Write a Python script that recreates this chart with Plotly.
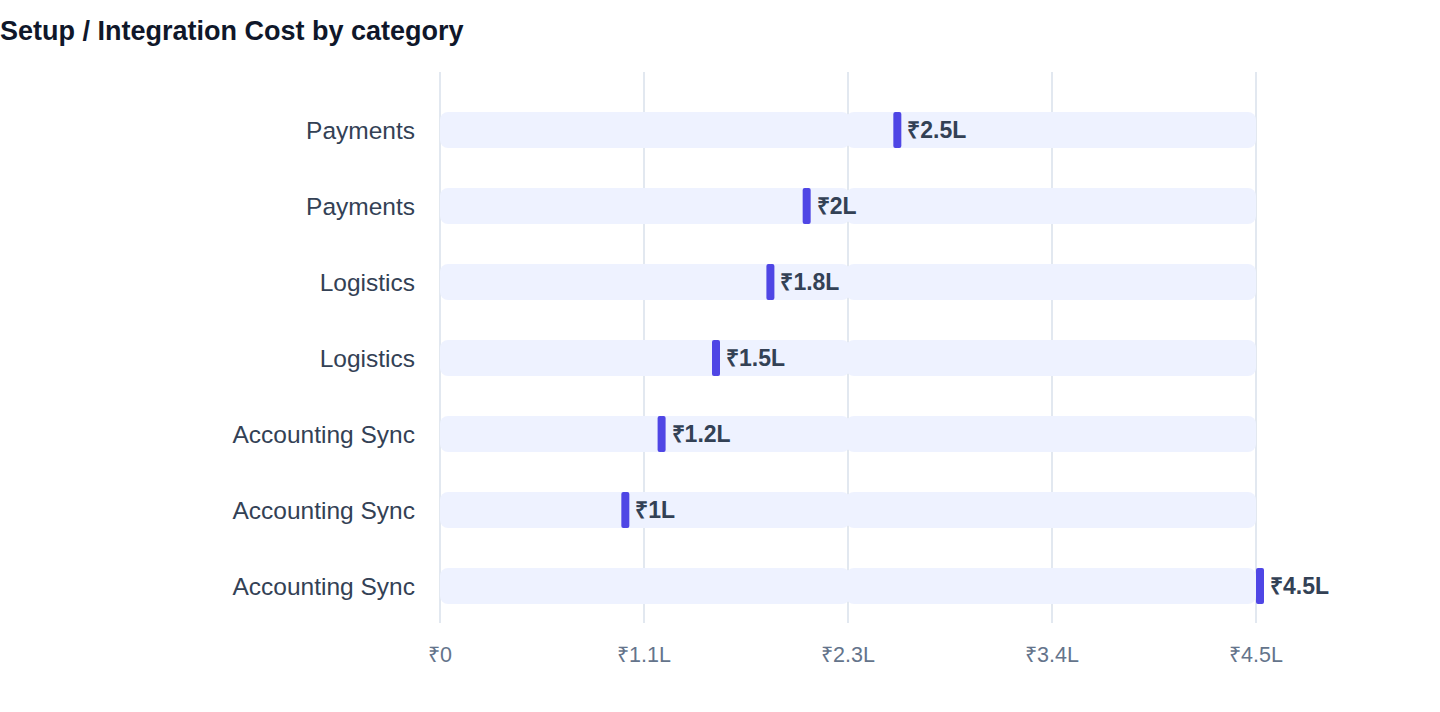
import plotly.graph_objects as go

# chart data, top row first
categories = ["Payments", "Payments", "Logistics", "Logistics",
              "Accounting Sync", "Accounting Sync", "Accounting Sync"]
values = [250000, 200000, 180000, 150000, 120000, 100000, 450000]
value_labels = ["₹2.5L", "₹2L", "₹1.8L", "₹1.5L", "₹1.2L", "₹1L", "₹4.5L"]
tick_vals = [0, 112500, 225000, 337500, 450000]
tick_text = ["₹0", "₹1.1L", "₹2.3L", "₹3.4L", "₹4.5L"]

TRACK = "#eef2ff"
PILL = "#4f46e5"
GRID = "#e2e8f0"
FONT = "Liberation Sans, Arial, Helvetica, sans-serif"

W, H = 1440, 712
M = dict(l=436, r=40, t=72, b=89)
plot_w = W - M["l"] - M["r"]

track_max = max(values)
# track spans 816px; start the axis 4px before zero so the zero gridline shows
unit = track_max / 816  # data units per pixel
x_min = -4 * unit
x_max = (plot_w - 4) * unit

rows = list(range(len(categories)))
n = len(rows)
bar_w = 36 / 76

fig = go.Figure()

# background track, split in two so both ends get rounded corners
half = track_max / 2
eps = 2 * unit
fig.add_trace(go.Bar(
    y=rows, x=[-(half + eps)] * n, base=[half + eps] * n,
    orientation="h", width=bar_w,
    marker=dict(color=TRACK, cornerradius=8, line_width=0),
    hoverinfo="skip",
))
fig.add_trace(go.Bar(
    y=rows, x=[half + eps] * n, base=[half - eps] * n,
    orientation="h", width=bar_w,
    marker=dict(color=TRACK, cornerradius=8, line_width=0),
    hoverinfo="skip",
))

# value pill, same trick (halves overlap so each is long enough for the radius)
pill_half = 4 * unit
tiny = 1.5 * unit
fig.add_trace(go.Bar(
    y=rows, x=[-(pill_half + tiny)] * n,
    base=[v + pill_half + tiny for v in values],
    orientation="h", width=bar_w,
    marker=dict(color=PILL, cornerradius=4, line_width=0),
    hoverinfo="skip",
))
fig.add_trace(go.Bar(
    y=rows, x=[pill_half + tiny] * n,
    base=[v + pill_half - tiny for v in values],
    orientation="h", width=bar_w,
    marker=dict(color=PILL, cornerradius=4, line_width=0),
    customdata=value_labels,
    hovertemplate="%{customdata}<extra></extra>",
))

fig.add_trace(go.Scatter(
    y=[r + 2 / 76 for r in rows],
    x=[v + 2 * pill_half + 6 * unit for v in values],
    mode="text", text=value_labels, textposition="middle right",
    textfont=dict(family=FONT, size=23, color="#334155", weight="bold"),
    cliponaxis=False, hoverinfo="skip",
))

fig.update_layout(
    width=W, height=H, margin=M,
    paper_bgcolor="white", plot_bgcolor="white",
    barmode="overlay", showlegend=False,
    font=dict(family=FONT, color="#334155"),
    title=dict(
        text="<b>Setup / Integration Cost by category</b>",
        x=0.0, xref="container", xanchor="left",
        y=1 - 31 / H, yref="container", yanchor="middle",
        font=dict(family=FONT, size=27, color="#0f172a"),
    ),
    xaxis=dict(
        range=[x_min, x_max], tickvals=tick_vals, ticktext=tick_text,
        showgrid=True, gridcolor=GRID, gridwidth=2,
        zeroline=False, showline=False, ticks="",
        tickfont=dict(size=21.5, color="#64748b"),
        ticklabelstandoff=16,
    ),
    yaxis=dict(
        range=[n - 1 + 37 / 76, -58 / 76],
        tickvals=rows, ticktext=categories,
        showgrid=False, zeroline=False, showline=False, ticks="",
        tickfont=dict(size=24.5, color="#334155"),
        ticklabelstandoff=20,
    ),
)

fig.write_html(
    "out.html",
    config={"displayModeBar": False},
    post_script="document.body.style.margin='0';",
)
